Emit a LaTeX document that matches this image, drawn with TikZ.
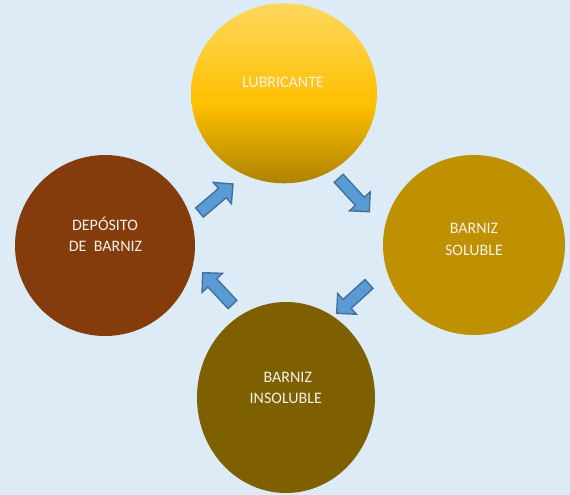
\documentclass[tikz,border=0pt]{standalone}
\usepackage{fontspec}
\setmainfont{Carlito}
\usetikzlibrary{shapes.geometric,calc}
\definecolor{bg}{HTML}{DDEBF7}
\definecolor{goldA}{HTML}{FFD75E}
\definecolor{goldB}{HTML}{FFC000}
\definecolor{goldC}{HTML}{AD8200}
\definecolor{soluble}{HTML}{BF9000}
\definecolor{insoluble}{HTML}{7F6000}
\definecolor{deposito}{HTML}{843C0C}
\definecolor{arrfill}{HTML}{5B9BD5}
\definecolor{arrline}{HTML}{41719C}
\definecolor{txtc}{HTML}{F4F1EA}
\pgfdeclareverticalshading{lubshade}{100bp}{%
  color(0bp)=(goldC); color(25bp)=(goldC); color(47bp)=(goldB);
  color(75bp)=(goldA); color(100bp)=(goldA)}
\tikzset{
  disc/.style={ellipse, draw=none, inner sep=0pt},
  lbl/.style={anchor=base, text=txtc, inner sep=0pt, font=\fontsize{16}{19}\selectfont},
  blockarrow/.style={fill=arrfill, draw=arrline, line width=1.4pt, line join=miter}
}
\newcommand\blockarr[2]{%
  \path[blockarrow]
    ($(#1)!6pt!-90:(#2)$) --
    ($($(#2)!14pt!(#1)$)!6pt!-90:(#2)$) --
    ($($(#2)!14pt!(#1)$)!14pt!-90:(#2)$) --
    (#2) --
    ($($(#2)!14pt!(#1)$)!14pt!90:(#2)$) --
    ($($(#2)!14pt!(#1)$)!6pt!90:(#2)$) --
    ($(#1)!6pt!90:(#2)$) -- cycle;}
\begin{document}
\begin{tikzpicture}[x=1pt,y=-1pt]
\fill[bg] (0,0) rectangle (570,495);
\useasboundingbox (0,0) rectangle (570,495);
% circles
\node[disc, minimum width=186pt, minimum height=180pt,
      shading=lubshade] (lub) at (284,93.3) {};
\node[disc, fill=soluble, minimum width=182pt, minimum height=180pt] (sol) at (474,245) {};
\node[disc, fill=insoluble, minimum width=178pt, minimum height=191pt] (ins) at (286,397.5) {};
\node[disc, fill=deposito, minimum width=180pt, minimum height=181pt] (dep) at (105,245.5) {};
% texts
\node[lbl] (t1) at (283,88) {LUBRICANTE};
\node[lbl] (t2a) at (474,233.2) {BARNIZ};
\node[lbl] (t2b) at (474,255.5) {SOLUBLE};
\node[lbl] (t3a) at (287.8,382.2) {BARNIZ};
\node[lbl] (t3b) at (285.8,403.5) {INSOLUBLE};
\node[lbl] (t4a) at (105,230.2) {DEPÓSITO};
\node[lbl] (t4b) at (105.5,251.2) {DE\ \ BARNIZ};
% arrow end points
\coordinate (a1s) at (199.5,212.5);
\coordinate (a1e) at (233,184);
\coordinate (a2s) at (338.7,178.3);
\coordinate (a2e) at (369.3,211.7);
\coordinate (a3s) at (369,284);
\coordinate (a3e) at (336.7,313.3);
\coordinate (a4s) at (232.5,304.5);
\coordinate (a4e) at (202.7,272.7);
\blockarr{a1s}{a1e}
\blockarr{a2s}{a2e}
\blockarr{a3s}{a3e}
\blockarr{a4s}{a4e}
\end{tikzpicture}
\end{document}
